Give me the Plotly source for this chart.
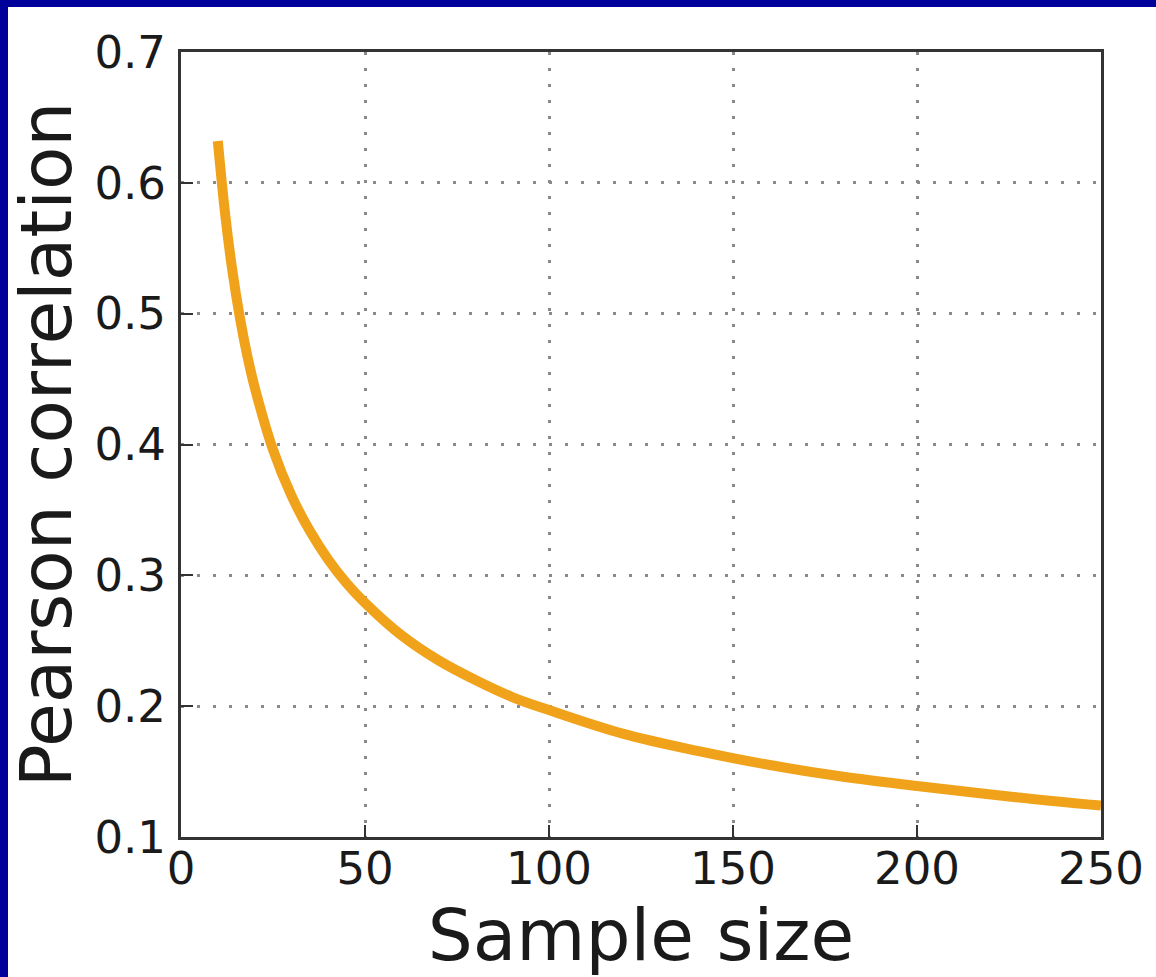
import plotly.graph_objects as go

sample_size = [10, 12, 14, 16, 18, 20, 25, 30, 35, 40, 45, 50, 60, 70, 80, 90,
               100, 120, 140, 160, 180, 200, 225, 250]
pearson_r = [0.632, 0.576, 0.532, 0.497, 0.468, 0.444, 0.396, 0.361, 0.334, 0.312,
             0.294, 0.279, 0.254, 0.235, 0.220, 0.207, 0.197, 0.179, 0.166, 0.155,
             0.146, 0.139, 0.131, 0.124]

x_ticks = [0, 50, 100, 150, 200, 250]
y_ticks = [0.1, 0.2, 0.3, 0.4, 0.5, 0.6, 0.7]
y_tick_labels = ["0.1", "0.2", "0.3", "0.4", "0.5", "0.6", "0.7"]

W, H = 1156, 977
L, R, T, B = 181, 55, 52, 140

fig = go.Figure()
fig.add_trace(go.Scatter(
    x=sample_size, y=pearson_r, mode="lines",
    line=dict(color="#F0A31A", width=10, shape="spline"),
    showlegend=False, hoverinfo="skip",
))

pw = W - L - R
ph = H - T - B
# white region of the page (blue border only on top and left)
fig.add_shape(type="rect", xref="paper", yref="paper", layer="below",
              x0=(8 - L) / pw, x1=(W - L) / pw,
              y0=-(H - T - ph) / ph - 0.01, y1=(H - 7 - B) / ph,
              fillcolor="white", line=dict(width=0))

font = "DejaVu Sans, Verdana, sans-serif"
grid = dict(showgrid=True, gridcolor="#8a8a8a", gridwidth=3, griddash="3px,13px")
fig.update_layout(
    width=W, height=H,
    margin=dict(l=L, r=R, t=T, b=B),
    paper_bgcolor="#00009A",
    plot_bgcolor="white",
    font=dict(family=font, color="#1a1a1a"),
    xaxis=dict(
        range=[0, 250], tickmode="array", tickvals=x_ticks,
        ticks="inside", ticklen=12, tickwidth=2, tickcolor="#333",
        showline=True, mirror=True, linecolor="#333", linewidth=3,
        zeroline=False, tickfont=dict(size=45, family=font, color="#1a1a1a"),
        ticklabelstandoff=-10,
        title=dict(text="Sample size", font=dict(size=71, family=font, color="#1a1a1a"), standoff=10),
        **grid,
    ),
    yaxis=dict(
        range=[0.1, 0.7], tickmode="array", tickvals=y_ticks, ticktext=y_tick_labels,
        ticks="inside", ticklen=12, tickwidth=2, tickcolor="#333",
        showline=True, mirror=True, linecolor="#333", linewidth=3,
        zeroline=False, tickfont=dict(size=45, family=font, color="#1a1a1a"),
        ticklabelstandoff=3,
        title=dict(text="Pearson correlation", font=dict(size=71, family=font, color="#1a1a1a"), standoff=0),
        **grid,
    ),
)

fig.write_html("out.html")
